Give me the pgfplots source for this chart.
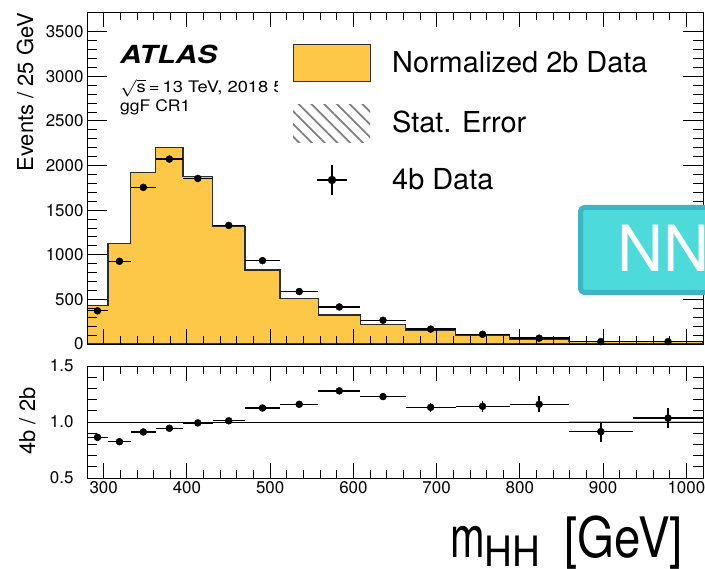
\documentclass[border=0pt]{standalone}
\usepackage{fontspec}
\setmainfont{TeX Gyre Heros}
\usepackage{pgfplots}
\pgfplotsset{compat=1.18}
\usetikzlibrary{patterns.meta}
\definecolor{histfill}{RGB}{253,199,71}
\definecolor{histline}{RGB}{45,45,45}
\definecolor{nncyan}{RGB}{77,218,218}
\definecolor{nnedge}{RGB}{58,182,198}

\pgfplotsset{
  atlasaxis/.style={
    scale only axis, width=616bp,
    xmin=280, xmax=1020,
    tick align=inside, tick pos=both, axis on top,
    xtick={300,400,...,1000}, minor x tick num=4,
    xtick style={/pgfplots/major tick length=15bp,/pgfplots/minor tick length=8bp},
    ytick style={/pgfplots/major tick length=20bp,/pgfplots/minor tick length=10bp},
    axis line style={line width=0.8bp},
    tick style={line width=0.8bp, black},
    tick label style={font=\fontsize{17}{17}\selectfont},
    /pgf/number format/assume math mode=true,
    /pgf/number format/1000 sep={},
  },
  datapts/.style={
    black, mark=*, mark size=3.5bp, only marks,
    error bars/.cd, x dir=both, x explicit, y dir=both, y explicit,
    error mark=none, error bar style={line width=1.4bp, black},
  },
}

\begin{document}
\begin{tikzpicture}
\path[use as bounding box] (0,0) rectangle (705bp,569bp);

% upper panel: normalized 2b data and 4b data
\begin{axis}[atlasaxis, at={(87bp,225bp)}, height=332bp,
    ymin=0, ymax=3720, ytick={0,500,...,3500}, minor y tick num=4,
    xticklabels={}]
\addplot[const plot, fill=histfill, draw=histline, line width=1.2bp] coordinates {
  (280,434) (305.2,1125) (332.7,1926) (362.6,2202) (395.3,1877)
  (430.9,1315) (469.7,830) (511.9,508) (558.0,325) (608.2,217)
  (663.0,148) (722.7,96) (787.7,56) (858.6,30) (935.9,26) (1020.1,26)
} \closedcycle;
\addplot[datapts] coordinates {
  (292.6,372) +- (12.6,11)
  (318.95,927) +- (13.75,17)
  (347.65,1755) +- (14.95,29)
  (378.95,2072) +- (16.35,33)
  (413.1,1855) +- (17.8,28)
  (450.3,1329) +- (19.4,20)
  (490.8,934) +- (21.1,17)
  (534.95,588) +- (23.05,10)
  (583.1,415) +- (25.1,10)
  (635.6,266) +- (27.4,7)
  (692.85,167) +- (29.85,6)
  (755.2,109) +- (32.5,5)
  (823.15,65) +- (35.45,4)
  (897.25,27) +- (38.65,3)
  (978.0,27) +- (42.1,2)
};
\end{axis}

% lower panel: ratio 4b / 2b
\begin{axis}[atlasaxis, at={(87bp,91bp)}, height=112bp,
    ymin=0.5, ymax=1.5, ytick={0.5,1,1.5}, minor y tick num=4,
    yticklabel style={xshift=-10bp, /pgf/number format/.cd, fixed, fixed zerofill, precision=1}]
\addplot[draw=none, fill=gray!55] coordinates {
  (858.6,0.993) (1020.1,0.993) (1020.1,1.007) (858.6,1.007)
} -- cycle;
\addplot[black, line width=0.9bp, forget plot] coordinates {(280,1) (1020.1,1)};
\addplot[datapts] coordinates {
  (292.6,0.863) +- (12.6,0.025)
  (318.95,0.824) +- (13.75,0.015)
  (347.65,0.911) +- (14.95,0.015)
  (378.95,0.944) +- (16.35,0.015)
  (413.1,0.992) +- (17.8,0.015)
  (450.3,1.011) +- (19.4,0.015)
  (490.8,1.125) +- (21.1,0.02)
  (534.95,1.158) +- (23.05,0.02)
  (583.1,1.278) +- (25.1,0.03)
  (635.6,1.227) +- (27.4,0.03)
  (692.85,1.131) +- (29.85,0.04)
  (755.2,1.140) +- (32.5,0.05)
  (823.15,1.158) +- (35.45,0.07)
  (897.25,0.914) +- (38.65,0.09)
  (978.0,1.035) +- (42.1,0.09)
};
\end{axis}

% axis titles
\node[rotate=90, anchor=base east, inner sep=0, font=\fontsize{22}{22}\selectfont]
  at (33bp,556bp) {Events / 25 GeV};
\node[rotate=90, anchor=base, inner sep=0, font=\fontsize{22}{22}\selectfont]
  at (35bp,148bp) {4b / 2b};
\node[anchor=base west, inner sep=0] at (450bp,12bp)
  {\scalebox{0.72}[1]{\fontsize{58}{58}\selectfont m}%
   \raisebox{-9bp}{\scalebox{0.92}[1]{\fontsize{42}{42}\selectfont HH}}};
\node[anchor=base east, inner sep=0] at (683bp,12bp)
  {\scalebox{0.85}[1]{\fontsize{56}{56}\selectfont [GeV]}};

% ATLAS label
\node[anchor=base west, inner sep=0] at (120bp,505bp)
  {\scalebox{1.2}[1]{\fontsize{25}{25}\selectfont\bfseries\itshape ATLAS}};
\begin{scope}
\clip (100bp,400bp) rectangle (277bp,500bp);
\node[anchor=base west, inner sep=0] at (120bp,476bp)
  {\scalebox{1.15}[1]{\fontsize{16}{16}\selectfont $\sqrt{\mbox{s}}$\,=\,13 TeV, 2018 58.5 fb$^{-1}$}};
\end{scope}
\node[anchor=base west, inner sep=0] at (120bp,457bp)
  {\scalebox{1.1}[1]{\fontsize{16}{16}\selectfont ggF CR1}};

% legend
\draw[fill=histfill, draw=histline, line width=1.5bp] (293.5bp,487.5bp) rectangle (370.5bp,524.5bp);
\fill[pattern={Lines[angle=-45, distance=9bp, line width=1.8bp]}, pattern color=gray] (293bp,426bp) rectangle (370bp,464bp);
\draw[line width=1.6bp] (317bp,389bp) -- (347bp,389bp) (332bp,374bp) -- (332bp,404bp);
\fill (332bp,389bp) circle (4.2bp);
\begin{scope}[every node/.style={anchor=base west, inner sep=0, font=\fontsize{29}{29}\selectfont}]
\node at (392bp,496bp) {Normalized 2b Data};
\node at (392bp,436bp) {Stat. Error};
\node at (392bp,379bp) {4b Data};
\end{scope}

% NN tag
\draw[line width=5bp, draw=nnedge, fill=nncyan, rounded corners=4bp] (580.5bp,276.5bp) rectangle (760bp,361.5bp);
\node[anchor=base west, inner sep=0, text=white, font=\fontsize{64}{64}\selectfont] at (617bp,297bp) {NN};
\end{tikzpicture}
\end{document}
